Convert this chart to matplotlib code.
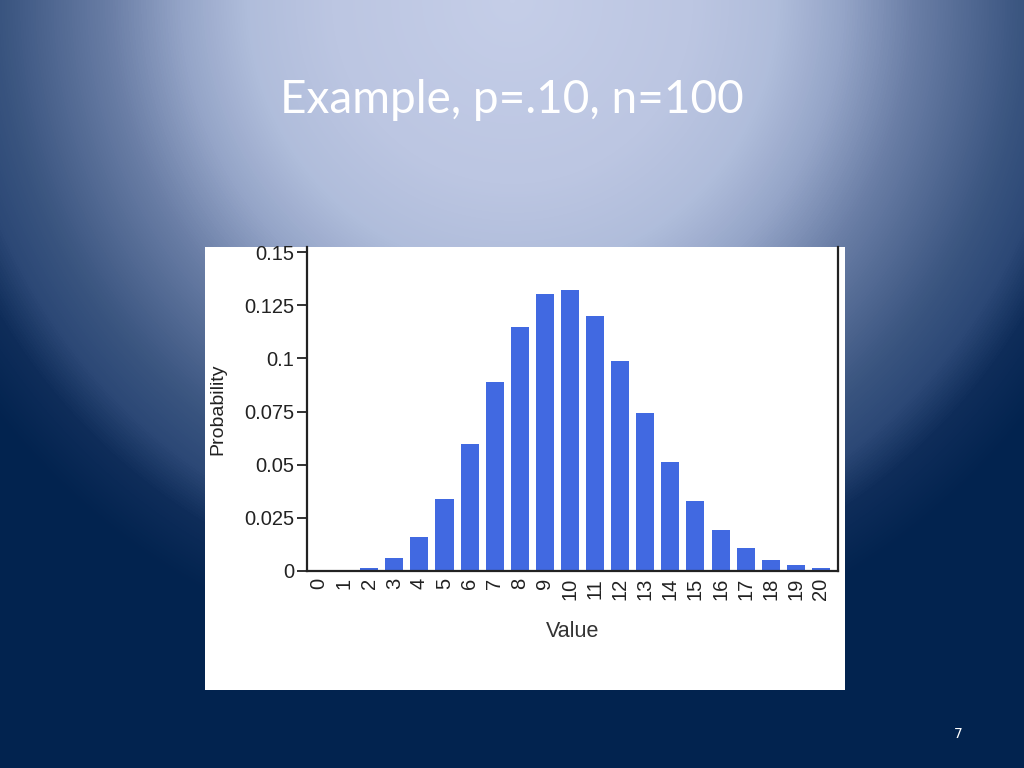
import numpy as np
import matplotlib
matplotlib.use("Agg")
import matplotlib.pyplot as plt
from matplotlib.colors import LinearSegmentedColormap
from matplotlib.patches import Rectangle

# values
values = list(range(21))
probs = [0.0, 0.0003, 0.0016, 0.0059, 0.0159, 0.0339, 0.0596, 0.0889, 0.1148,
         0.1304, 0.1319, 0.1199, 0.0988, 0.0743, 0.0513, 0.0327, 0.0193,
         0.0106, 0.0054, 0.0026, 0.0012]
yticks = [0, 0.025, 0.05, 0.075, 0.1, 0.125, 0.15]
ytick_labels = ["0", "0.025", "0.05", "0.075", "0.1", "0.125", "0.15"]

title = "Example, p=.10, n=100"
slide_no = "7"

fig = plt.figure(figsize=(10.24, 7.68), dpi=100)

# slide background: radial gradient from the top centre
bg = fig.add_axes([0, 0, 1, 1])
bg.set_axis_off()
yy, xx = np.mgrid[0:768, 0:1024]
d = np.sqrt(((xx - 512) / 600.0) ** 2 + (yy / 610.0) ** 2)
stops = [(0.0, "#c5cee8"), (0.3, "#bcc6e2"), (0.44, "#b0bddb"),
         (0.55, "#95a5c8"), (0.67, "#6a7ea6"), (0.85, "#3a5580"),
         (0.93, "#2c4876"), (1.0, "#0f2d5a"), (1.1, "#02234f")]
cmap = LinearSegmentedColormap.from_list("slide", [(p / 1.1, c) for p, c in stops])
bg.imshow(d, cmap=cmap, vmin=0, vmax=1.1, aspect="auto",
          extent=[0, 1, 0, 1], origin="upper")
bg.set_xlim(0, 1)
bg.set_ylim(0, 1)

fig.text(0.5, 1 - 100 / 768, title, color="white", fontsize=33,
         family="Lato", ha="center", va="center")
fig.text(958 / 1024, 1 - 734 / 768, slide_no, color="white", fontsize=10,
         family="DejaVu Sans", ha="center", va="center")

# white picture frame
fig.patches.append(Rectangle((205 / 1024, 1 - 690 / 768), 640 / 1024, 443 / 768,
                             transform=fig.transFigure, facecolor="white",
                             edgecolor="none", zorder=1))

ax = fig.add_axes([307 / 1024, 1 - 571 / 768, 531 / 1024, 324 / 768])
ax.set_facecolor("white")
ax.set_zorder(2)
ax.bar(values, probs, width=0.72, color="#4169e1")
ax.set_xlim(-0.48, 20.68)
ax.set_ylim(0, 0.15 * 324 / 319)

ax.set_yticks(yticks)
ax.set_yticklabels(ytick_labels, fontsize=14.5, family="Liberation Sans",
                   color="#222222")
ax.set_xticks(values)
ax.set_xticklabels([str(v) for v in values], rotation=90, fontsize=14.5,
                   family="Liberation Sans", color="#222222")
ax.tick_params(axis="y", length=7, width=1.3, pad=2, color="#222222")
ax.tick_params(axis="x", length=0, pad=5)

for s in ["left", "bottom", "right"]:
    ax.spines[s].set_linewidth(1.6)
    ax.spines[s].set_color("#222222")
ax.spines["top"].set_visible(False)

ax.set_ylabel("Probability", fontsize=14, family="Liberation Sans",
              color="#222222")
ax.yaxis.set_label_coords(-0.152, 0.5)
ax.set_xlabel("Value", fontsize=15.5, family="Liberation Sans", color="#333333")
ax.xaxis.set_label_coords(0.5, -0.155)

fig.savefig("out.png", dpi=100)
